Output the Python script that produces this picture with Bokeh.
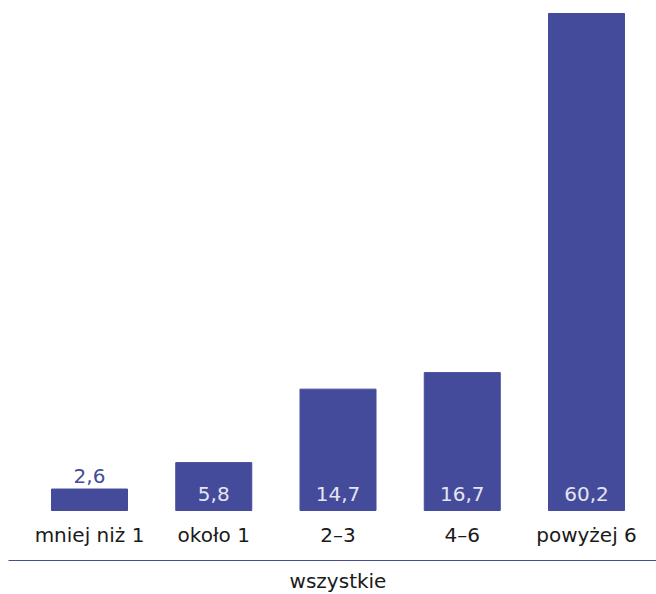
from bokeh.plotting import figure
from bokeh.models import Range1d, FixedTicker, ColumnDataSource
from bokeh.core.properties import value
from bokeh.embed import file_html
from bokeh.resources import INLINE

categories = ["mniej niż 1", "około 1", "2–3", "4–6", "powyżej 6"]
values = [2.6, 5.8, 14.7, 16.7, 60.2]
group_label = "wszystkie"

BAR = "#444b9b"
LIGHT = "#e4e5f0"
FONT = "DejaVu Sans"
FS = "20px"
PXU = 8.256  # pixels per unit

xs = [i + 0.5 for i in range(len(categories))]
val_text = [f"{v:.1f}".replace(".", ",") for v in values]
val_y = [v + 13 / PXU if v < 4 else 17 / PXU for v in values]
val_col = [BAR if v < 4 else LIGHT for v in values]

src = ColumnDataSource(dict(x=xs, top=values, cat=categories, vt=val_text, vy=val_y, vc=val_col,
                            cy=[-24 / PXU] * len(values)))

p = figure(frame_width=648, frame_height=552, min_border=0, min_border_left=8, min_border_top=8,
           x_range=Range1d(-0.152, -0.152 + 648 / 124.25), y_range=Range1d(-50 / PXU, 502 / PXU),
           output_backend="svg", toolbar_location=None, background_fill_color="white",
           border_fill_color="white")
p.outline_line_color = None
p.grid.visible = False
p.yaxis.visible = False

p.vbar(x="x", top="top", bottom=0, width=76 / 124.25, color=BAR, source=src)
p.text(x="x", y="vy", text="vt", text_color="vc", text_align="center", text_baseline="middle",
       text_font=value(FONT), text_font_size=FS, source=src)
p.text(x="x", y="cy", text="cat", text_color="#1a1a1a", text_align="center", text_baseline="middle",
       text_font=value(FONT), text_font_size=FS, source=src)

ax = p.xaxis[0]
ax.ticker = FixedTicker(ticks=[2.5])
ax.major_label_overrides = {2.5: group_label}
ax.major_tick_in = 0
ax.major_tick_out = 0
ax.minor_tick_in = 0
ax.minor_tick_out = 0
ax.axis_line_color = BAR
ax.axis_line_width = 1
ax.major_label_standoff = 8
ax.major_label_text_font = FONT
ax.major_label_text_font_size = FS
ax.major_label_text_color = "#1a1a1a"

open("out.html", "w").write(file_html(p, INLINE))
